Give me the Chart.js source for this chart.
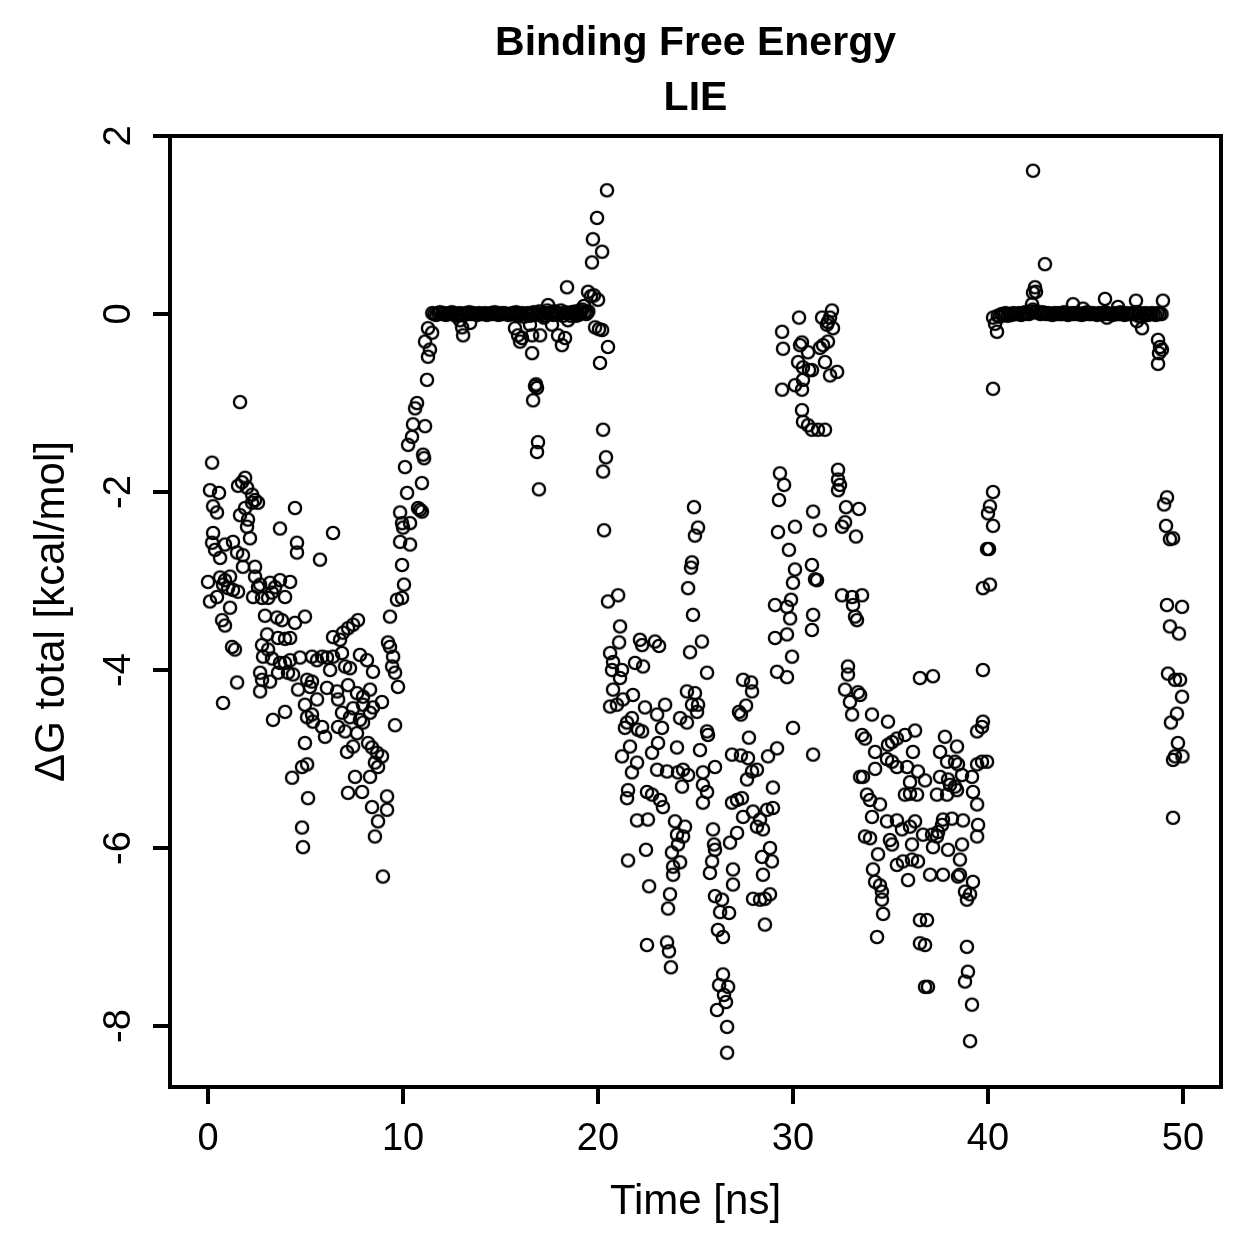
<!DOCTYPE html>
<html>
<head>
<meta charset="utf-8">
<script src="https://cdn.jsdelivr.net/npm/chart.js@4.4.1/dist/chart.umd.min.js"></script>
<style>
  html, body { margin: 0; padding: 0; background: #fff; }
  #wrap { width: 1259px; height: 1259px; }
</style>
</head>
<body>
<div id="wrap"><canvas id="lie" width="1259" height="1259"></canvas></div>
<script>
// first 10 ns, before the complex leaves the site
const earlyTime = [
  1.64,0.21,0.10,0.56,0.26,0.46,1.90,1.74,1.54,2.00,
  2.26,2.41,2.56,2.26,1.90,1.64,2.05,2.00,2.15,4.46,
  3.69,6.41,4.56,4.56,5.74,0.26,0.21,0.36,0.62,0.87,
  1.28,1.49,1.79,1.79,0.00,0.10,0.46,0.62,0.87,1.13,
  0.77,1.03,1.28,1.54,1.13,0.72,0.87,1.23,1.38,0.77,
  1.49,2.41,2.41,2.56,2.31,2.77,2.67,3.18,3.44,3.69,
  4.21,3.95,3.28,3.08,2.92,3.54,3.79,4.46,4.97,3.03,
  3.59,3.95,4.21,2.77,3.08,2.82,3.28,3.69,3.95,4.21,
  4.10,2.67,2.77,3.18,3.59,4.36,4.62,2.67,3.33,3.95,
  4.97,4.97,4.82,5.08,4.31,5.13,4.82,4.87,5.08,5.33,
  5.38,5.85,6.00,5.59,5.08,5.23,4.72,5.33,5.59,5.85,
  6.10,6.41,6.26,5.33,6.10,6.62,6.41,6.77,6.92,7.18,
  7.44,7.69,6.87,7.03,7.28,7.79,8.15,8.46,6.67,7.18,
  7.64,7.44,7.95,8.31,7.95,8.46,8.92,8.31,6.87,7.28,
  6.67,7.79,7.95,7.03,7.64,7.44,7.13,8.21,8.41,8.67,
  8.92,8.56,8.72,8.31,7.54,7.18,7.90,8.41,9.18,9.18,
  8.72,8.56,8.97,9.59,9.33,9.23,9.33,9.49,9.44,9.59,
  9.74,9.69
];
const earlyDG = [
  -0.99,-1.67,-1.98,-2.01,-2.16,-2.23,-1.84,-1.89,-1.93,-1.95,
  -2.03,-2.09,-2.12,-2.12,-2.18,-2.26,-2.31,-2.39,-2.52,-2.18,
  -2.41,-2.46,-2.57,-2.68,-2.76,-2.46,-2.57,-2.65,-2.74,-2.59,
  -2.56,-2.68,-2.71,-2.84,-3.01,-3.23,-3.18,-2.96,-2.99,-2.95,
  -3.04,-3.08,-3.10,-3.12,-3.30,-3.44,-3.50,-3.74,-3.77,-4.37,
  -4.14,-2.84,-2.95,-3.07,-3.18,-3.19,-3.04,-3.02,-3.07,-2.99,
  -3.01,-3.18,-3.13,-3.19,-3.39,-3.41,-3.44,-3.47,-3.40,-3.60,
  -3.64,-3.65,-3.64,-3.72,-3.77,-3.85,-3.87,-3.92,-3.92,-3.89,
  -4.03,-4.03,-4.11,-4.13,-4.03,-4.05,-4.22,-4.24,-4.56,-4.47,
  -4.39,-4.82,-5.09,-5.06,-5.21,-5.44,-5.77,-5.99,-4.53,-4.50,
  -4.58,-4.64,-4.75,-4.33,-4.11,-4.19,-3.86,-3.85,-3.89,-3.85,
  -3.86,-3.85,-4.00,-4.13,-4.20,-4.24,-3.63,-3.66,-3.58,-3.53,
  -3.49,-3.44,-3.81,-3.96,-3.98,-3.83,-3.89,-4.02,-4.33,-4.17,
  -4.26,-4.43,-4.30,-4.22,-4.39,-4.42,-4.36,-4.48,-4.48,-4.53,
  -4.64,-4.56,-4.59,-4.69,-4.71,-4.86,-4.92,-4.82,-4.87,-4.93,
  -4.97,-5.04,-5.09,-5.20,-5.20,-5.38,-5.37,-5.54,-5.42,-5.57,
  -5.70,-5.87,-6.32,-4.62,-3.40,-3.69,-3.74,-3.85,-3.96,-4.03,
  -4.19,-3.21
];

// climb back towards zero around 10-11.5 ns
const riseTime = [
  9.95,10.05,9.85,9.95,10.36,10.00,9.85,9.95,10.36,10.21,
  10.10,10.97,10.77,10.87,10.97,11.03,11.08,10.26,10.46,10.51,
  11.13,10.62,10.72,11.23,11.28,11.38,11.13,11.28,11.49
];
const riseDG = [
  -3.19,-3.04,-2.56,-2.82,-2.59,-2.40,-2.23,-2.35,-2.35,-2.01,
  -1.72,-1.90,-2.18,-2.20,-2.22,-1.58,-1.62,-1.47,-1.38,-1.24,
  -1.26,-1.06,-1.00,-0.74,-0.48,-0.40,-0.31,-0.16,-0.21
];

// first plateau at ~0 kcal/mol
const plateau1Time = [
  11.5,11.6,11.7,11.8,11.9,12.0,12.1,12.2,12.3,12.4,
  12.5,12.6,12.7,12.8,12.9,13.0,13.1,13.2,13.3,13.4,
  13.5,13.6,13.7,13.8,13.9,14.0,14.1,14.2,14.3,14.4,
  14.5,14.6,14.7,14.8,14.9,15.0,15.1,15.2,15.3,15.4,
  15.5,15.6,15.7,15.8,15.9,16.0,16.1,16.2,16.3,16.4,
  16.5,16.6,16.7,16.8,16.9,17.0,17.1,17.2,17.3,17.4,
  17.5,17.6,17.7,17.8,17.9,18.0,18.1,18.2,18.3,18.4,
  18.5,18.6,18.7,18.8,18.9,19.0,19.1,19.2,19.3,19.4,19.5
];
const plateau1DG = [
  0.01,0.00,-0.01,0.01,0.02,0.00,0.01,-0.01,0.00,0.01,
  0.02,0.01,-0.02,0.00,0.01,0.00,-0.01,0.01,0.00,0.02,
  0.00,0.01,0.00,-0.01,0.01,0.00,0.00,0.01,-0.01,0.00,
  0.01,0.00,0.02,0.00,-0.01,0.01,0.00,0.01,0.00,-0.01,
  0.00,0.01,0.00,0.02,-0.02,0.00,0.01,-0.03,0.00,0.01,
  -0.02,0.00,0.02,-0.01,0.01,0.03,0.00,-0.02,0.01,0.04,
  0.00,0.02,-0.01,0.03,0.01,0.00,0.04,-0.02,0.02,0.01,
  0.01,-0.02,0.02,0.00,0.03,-0.01,0.01,0.05,0.02,0.00,0.03
];

// excursions off the first plateau and the fall at 20 ns
const excursion1Time = [
  12.92,13.03,13.08,13.44,15.74,15.90,16.00,16.10,16.62,17.03,
  16.62,16.77,16.82,16.87,16.67,16.92,16.87,16.97,17.44,17.64,
  17.95,18.15,18.31,18.46,18.41,18.67,18.87,19.08,19.28,19.49,
  19.64,19.79,20.00,19.44,19.69,19.74,19.95,20.21,20.46,19.85,
  20.05,20.21,20.51,20.10,20.26,20.41,20.26,20.31,20.51,21.03,
  16.51,17.23
];
const excursion1DG = [
  -0.07,-0.15,-0.24,-0.10,-0.16,-0.24,-0.31,-0.27,-0.24,-0.24,
  -0.44,-0.81,-0.79,-0.83,-0.97,-1.44,-1.55,-1.97,0.10,-0.12,
  -0.24,-0.35,-0.27,-0.07,0.30,0.02,-0.02,0.04,0.09,0.25,
  0.20,0.21,0.16,0.02,0.58,0.84,1.08,0.70,1.39,-0.15,
  -0.17,-0.18,-0.37,-0.55,-1.30,-1.61,-1.77,-2.43,-3.23,-3.16,
  -0.12,-0.04
];

// 20-30 ns, deepest binding
const cloudTime = [
  21.13,21.08,20.62,20.77,20.72,21.23,21.13,20.77,20.62,20.97,
  21.28,21.79,21.90,22.31,22.15,22.26,22.92,23.13,24.72,24.87,
  25.33,25.59,22.41,23.03,23.44,23.28,23.08,22.77,21.49,21.74,
  21.38,22.05,22.26,21.64,21.23,22.00,21.74,23.03,23.54,24.05,
  24.21,24.56,24.56,24.97,24.82,25.13,25.08,25.59,25.64,25.23,
  26.00,24.10,24.36,24.62,24.31,25.38,25.38,25.59,25.38,21.54,
  21.49,22.51,22.77,23.18,23.33,22.00,22.56,23.95,24.46,24.05,
  24.36,24.10,23.79,24.21,23.85,23.85,21.54,22.46,22.62,23.69,
  23.59,22.51,23.54,23.64,23.74,25.90,25.95,26.00,25.85,25.74,
  26.00,26.36,26.26,26.72,26.15,26.41,26.41,26.21,26.67,26.46,
  26.56,26.10,26.62,26.62,26.87,27.33,27.69,27.90,28.15,27.64,
  27.44,27.85,27.90,27.59,27.23,27.33,27.74,26.87,27.13,27.38,
  27.44,27.95,28.31,28.15,28.46,28.67,28.97,27.13,26.77,26.92,
  26.92,28.41,28.82,28.92,28.46,27.95,28.31,28.56,28.82,28.56,
  28.72,29.18,28.97,30.00,29.08,29.69,29.85,29.08,29.69,29.95,
  29.18,29.69,24.92,25.13,24.97,24.82,24.77,24.62,29.90,29.33,
  29.54,29.28,29.23,30.10,29.79,30.10,30.00
];
const cloudDG = [
  -3.51,-3.69,-3.81,-3.91,-4.00,-4.00,-4.09,-4.22,-4.41,-4.39,
  -4.33,-4.28,-3.92,-3.96,-3.66,-3.72,-3.68,-3.73,-3.80,-3.38,
  -3.68,-4.03,-4.42,-4.50,-4.39,-4.65,-4.82,-4.93,-4.59,-4.54,
  -4.65,-4.67,-4.69,-4.86,-4.97,-5.04,-5.15,-5.12,-5.14,-4.87,
  -4.54,-4.59,-4.24,-4.26,-4.39,-4.39,-4.47,-4.69,-4.73,-4.90,
  -5.09,-5.15,-5.12,-5.18,-5.31,-5.15,-5.29,-5.37,-5.49,-5.35,
  -5.44,-5.37,-5.40,-5.46,-5.54,-5.69,-5.68,-5.70,-5.76,-5.85,
  -5.87,-5.96,-6.05,-6.16,-6.21,-6.30,-6.14,-6.02,-6.43,-6.52,
  -6.68,-7.09,-7.06,-7.16,-7.34,-5.79,-5.96,-6.02,-6.15,-6.28,
  -6.54,-6.58,-6.72,-6.73,-6.92,-7.00,-7.42,-7.54,-7.56,-7.65,
  -7.73,-7.82,-8.01,-8.30,-4.95,-4.96,-4.99,-5.14,-5.12,-5.23,
  -4.11,-4.14,-4.24,-4.40,-4.47,-4.50,-4.76,-5.49,-5.46,-5.44,
  -5.65,-5.59,-5.68,-5.76,-5.79,-5.57,-5.55,-5.83,-5.94,-6.24,
  -6.41,-6.10,-6.00,-6.15,-6.30,-6.57,-6.58,-6.57,-6.52,-6.86,
  -4.97,-4.88,-5.32,-4.65,-3.27,-3.29,-3.42,-3.64,-3.60,-3.85,
  -4.02,-4.08,-2.17,-2.40,-2.49,-2.79,-2.85,-3.08,-3.21,-1.79,
  -1.92,-2.09,-2.45,-2.39,-2.65,-2.87,-3.02
];

// 29.5-34 ns, partial unbinding
const midTime = [
  30.31,29.44,29.49,30.36,30.46,30.77,30.26,30.51,30.82,30.97,
  30.51,30.10,29.44,30.46,31.64,31.54,31.79,32.00,31.90,31.79,
  32.05,31.49,31.90,32.26,31.38,31.74,30.46,30.51,30.77,30.97,
  31.28,31.64,31.03,31.38,30.97,31.23,31.13,31.03,30.97,31.03,
  32.31,32.31,32.41,32.31,32.72,33.38,32.67,32.51,33.23,32.51,
  33.03,33.54,33.08,33.18,33.28,32.82,32.82,32.67,33.33,33.44,
  32.92,33.03
];
const midDG = [
  -0.04,-0.20,-0.39,-0.35,-0.32,-0.43,-0.54,-0.60,-0.63,-0.63,
  -0.74,-0.80,-0.85,-0.85,-0.54,-0.35,-0.31,0.04,-0.04,-0.09,
  -0.16,-0.04,-0.69,-0.65,-0.38,-0.12,-1.08,-1.21,-1.25,-1.30,
  -1.30,-1.30,-2.22,-2.43,-2.82,-2.99,-2.98,-3.38,-3.55,-4.95,
  -1.75,-1.86,-1.92,-1.98,-2.17,-2.19,-2.34,-2.39,-2.50,-3.16,
  -3.18,-3.16,-3.27,-3.40,-3.44,-3.96,-4.05,-4.22,-4.25,-4.28,
  -4.36,-4.50
];

// 33.5-40 ns, second deep basin
const lateTime = [
  36.51,37.18,34.05,34.87,33.54,33.69,34.21,34.87,35.08,35.33,
  35.74,36.26,34.82,35.08,35.33,35.85,36.15,33.44,33.59,34.21,
  36.41,36.77,36.00,35.74,36.00,36.36,33.79,33.95,34.46,34.05,
  34.82,35.33,35.59,36.00,33.69,33.95,34.97,35.08,36.10,36.26,
  34.36,34.10,34.21,34.46,34.56,34.56,34.62,34.31,35.33,35.64,
  35.90,36.51,36.87,36.51,36.77,36.77,36.92,36.10,36.41,36.67,
  37.03,37.69,38.56,38.92,39.08,39.23,37.79,37.54,38.41,37.90,
  38.31,38.46,37.54,37.95,38.05,38.31,38.67,39.18,37.38,37.90,
  38.41,39.23,39.44,37.69,38.15,38.72,39.49,37.64,37.44,37.38,
  37.13,37.18,37.95,38.67,39.44,38.56,38.46,38.82,38.92,38.97,
  38.82,39.18,39.08,39.44,39.69,39.95,39.44,39.69,39.74,39.74
];
const lateDG = [
  -4.09,-4.07,-4.50,-4.58,-4.73,-4.77,-4.92,-4.84,-4.81,-4.77,
  -4.73,-4.68,-5.00,-5.03,-5.09,-5.09,-4.92,-5.20,-5.20,-5.11,
  -5.14,-5.24,-5.26,-5.40,-5.39,-5.40,-5.40,-5.46,-5.51,-5.65,
  -5.70,-5.69,-5.79,-5.76,-5.87,-5.89,-5.91,-5.96,-5.96,-5.70,
  -6.07,-6.24,-6.38,-6.42,-6.49,-6.58,-6.74,-7.00,-6.19,-6.15,
  -6.36,-6.81,-6.81,-7.07,-7.09,-7.56,-7.56,-6.13,-6.15,-5.85,
  -6.30,-6.30,-6.30,-6.58,-6.52,-6.38,-4.75,-4.92,-4.86,-5.03,
  -5.03,-5.06,-5.20,-5.23,-5.29,-5.31,-5.18,-5.20,-5.40,-5.40,
  -5.35,-5.37,-5.51,-5.68,-5.67,-5.69,-5.74,-5.74,-5.82,-5.87,
  -5.85,-5.99,-6.02,-5.96,-5.87,-6.13,-6.32,-6.49,-7.11,-7.39,
  -7.50,-7.76,-8.17,-5.06,-5.03,-5.03,-4.69,-4.64,-4.58,-4.00
];

// second plateau at ~0 kcal/mol
const plateau2Time = [
  40.5,40.6,40.7,40.8,40.9,41.0,41.1,41.2,41.3,41.4,
  41.5,41.6,41.7,41.8,41.9,42.0,42.1,42.2,42.3,42.4,
  42.5,42.6,42.7,42.8,42.9,43.0,43.1,43.2,43.3,43.4,
  43.5,43.6,43.7,43.8,43.9,44.0,44.1,44.2,44.3,44.4,
  44.5,44.6,44.7,44.8,44.9,45.0,45.1,45.2,45.3,45.4,
  45.5,45.6,45.7,45.8,45.9,46.0,46.1,46.2,46.3,46.4,
  46.5,46.6,46.7,46.8,46.9,47.0,47.1,47.2,47.3,47.4,
  47.5,47.6,47.7,47.8,47.9,48.0,48.1,48.2,48.3,48.4,
  48.5,48.6,48.7,48.8,48.9
];
const plateau2DG = [
  -0.02,-0.03,0.00,-0.01,0.01,-0.02,0.00,-0.01,0.01,0.00,
  0.00,0.01,-0.01,0.00,0.02,0.01,0.00,0.03,0.05,0.02,
  0.03,0.01,0.00,0.02,0.01,0.00,0.01,0.00,-0.01,0.01,
  0.00,0.01,0.00,0.00,0.02,0.01,-0.01,0.00,0.01,0.00,
  0.01,0.00,0.00,-0.01,0.01,0.00,0.02,0.00,0.00,0.01,
  0.00,-0.01,0.01,0.00,0.00,0.02,0.01,0.00,0.00,-0.01,
  0.01,0.00,0.00,0.02,0.00,-0.01,0.01,0.00,0.00,0.01,
  0.00,0.02,-0.02,0.01,-0.03,0.00,0.01,-0.01,0.00,0.01,
  0.00,-0.01,0.01,0.00,0.00
];

// rise at 40 ns, excursions, and the final drop near 49 ns
const excursion2Time = [
  40.26,40.10,40.00,40.26,39.95,40.05,39.74,40.10,40.26,40.26,
  40.36,40.46,42.31,42.92,42.41,42.31,42.46,42.26,44.36,44.87,
  46.00,46.10,46.67,47.59,47.64,47.90,48.97,48.72,48.82,48.92,
  48.77,48.72,49.18,49.03,49.13,49.33,49.49,49.18,49.95,49.33,
  49.79,49.23,49.59,49.85,49.95,49.69,49.38,49.74,49.59,49.49,
  49.97,49.49
];
const excursion2DG = [
  -2.00,-2.16,-2.24,-2.38,-2.64,-2.64,-3.08,-3.04,-0.84,-0.04,
  -0.11,-0.20,1.61,0.56,0.30,0.24,0.25,0.11,0.11,0.06,
  0.17,-0.04,0.08,0.15,-0.08,-0.16,0.15,-0.29,-0.37,-0.40,
  -0.44,-0.56,-2.06,-2.14,-2.38,-2.53,-2.52,-3.27,-3.29,-3.51,
  -3.59,-4.04,-4.11,-4.11,-4.30,-4.49,-4.59,-4.82,-4.97,-5.01,
  -4.97,-5.66
];

const xTicks = [0, 10, 20, 30, 40, 50];
const yTicks = [-8, -6, -4, -2, 0, 2];

const mainTitle = ['Binding Free Energy', 'LIE'];
const xTitle = 'Time [ns]';
const yTitle = '\u0394G total [kcal/mol]';

function pairUp(times, values) {
  return times.map((t, i) => ({ x: t, y: values[i] }));
}

const allPoints = [].concat(
  pairUp(earlyTime, earlyDG),
  pairUp(riseTime, riseDG),
  pairUp(plateau1Time, plateau1DG),
  pairUp(excursion1Time, excursion1DG),
  pairUp(cloudTime, cloudDG),
  pairUp(midTime, midDG),
  pairUp(lateTime, lateDG),
  pairUp(plateau2Time, plateau2DG),
  pairUp(excursion2Time, excursion2DG)
);

const FONT = '"Liberation Sans", Arial, Helvetica, sans-serif';

// open circle like R's pch = 1, used as the point style sprite
function makeRing() {
  const c = document.createElement('canvas');
  c.width = 20;
  c.height = 20;
  const g = c.getContext('2d');
  g.strokeStyle = '#000';
  g.lineWidth = 2.4;
  g.beginPath();
  g.arc(10, 10, 6.1, 0, Math.PI * 2);
  g.stroke();
  return c;
}
const ring = makeRing();

// base-graphics style frame, ticks and labels
const rFrame = {
  id: 'rFrame',
  beforeDraw(chart) {
    const ctx = chart.ctx;
    ctx.save();
    ctx.fillStyle = '#fff';
    ctx.fillRect(0, 0, chart.width, chart.height);
    ctx.restore();
  },
  afterDraw(chart) {
    const { ctx, chartArea: a } = chart;
    const sx = chart.scales.x;
    const sy = chart.scales.y;
    ctx.save();
    ctx.strokeStyle = '#000';
    ctx.lineWidth = 4;
    ctx.strokeRect(a.left, a.top, a.right - a.left, a.bottom - a.top);

    ctx.beginPath();
    xTicks.forEach(v => {
      const px = sx.getPixelForValue(v);
      ctx.moveTo(px, a.bottom);
      ctx.lineTo(px, a.bottom + 17);
    });
    yTicks.forEach(v => {
      const py = sy.getPixelForValue(v);
      ctx.moveTo(a.left, py);
      ctx.lineTo(a.left - 17, py);
    });
    ctx.stroke();

    ctx.fillStyle = '#000';
    ctx.font = '38px ' + FONT;
    ctx.textAlign = 'center';
    ctx.textBaseline = 'alphabetic';
    xTicks.forEach(v => ctx.fillText(String(v), sx.getPixelForValue(v), 1150));
    yTicks.forEach(v => {
      ctx.save();
      ctx.translate(130, sy.getPixelForValue(v));
      ctx.rotate(-Math.PI / 2);
      ctx.fillText(String(v), 0, 0);
      ctx.restore();
    });

    const midX = (a.left + a.right) / 2;
    const midY = (a.top + a.bottom) / 2;
    ctx.font = '42px ' + FONT;
    ctx.fillText(xTitle, midX, 1214);
    ctx.save();
    ctx.translate(64, midY);
    ctx.rotate(-Math.PI / 2);
    ctx.fillText(yTitle, 0, 0);
    ctx.restore();

    ctx.font = 'bold 41px ' + FONT;
    ctx.fillText(mainTitle[0], midX, 55);
    ctx.fillText(mainTitle[1], midX, 110);
    ctx.restore();
  }
};

new Chart(document.getElementById('lie'), {
  type: 'scatter',
  data: {
    datasets: [{
      data: allPoints,
      pointStyle: ring,
      pointRadius: 10,
      borderColor: '#000',
      backgroundColor: 'rgba(0,0,0,0)'
    }]
  },
  options: {
    responsive: false,
    devicePixelRatio: 1,
    animation: false,
    events: [],
    layout: { padding: { left: 170, top: 136, right: 38, bottom: 172 } },
    plugins: { legend: { display: false }, tooltip: { enabled: false }, title: { display: false } },
    scales: {
      x: { type: 'linear', min: -1.95, max: 51.95, display: false },
      y: { type: 'linear', min: -8.685, max: 2.0, display: false }
    }
  },
  plugins: [rFrame]
});
</script>
</body>
</html>
